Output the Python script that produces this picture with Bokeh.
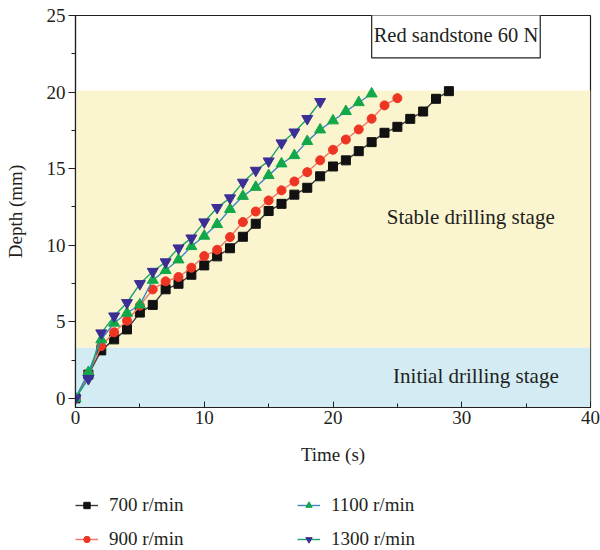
from bokeh.plotting import figure
from bokeh.layouts import column
from bokeh.models import BoxAnnotation, Label, Legend, LegendItem, Range1d, FixedTicker
from bokeh.embed import file_html
from bokeh.resources import INLINE

# ---- data ----
time_700 = list(range(0, 30))
depth_700 = [0, 1.55, 3.13, 3.85, 4.5, 5.6, 6.1, 7.12, 7.48, 8.07, 8.68, 9.27, 9.8, 10.55,
             11.4, 12.23, 12.7, 13.3, 13.75, 14.5, 15.14, 15.54, 16.14, 16.73, 17.34,
             17.73, 18.25, 18.73, 19.56, 20.06]
time_900 = list(range(0, 26))
depth_900 = [0, 1.6, 3.41, 4.31, 5.07, 6.05, 7.11, 7.64, 7.92, 8.53, 9.29, 9.7, 10.53,
             11.51, 12.2, 12.92, 13.58, 14.16, 14.77, 15.54, 16.23, 16.9, 17.56, 18.26,
             19.13, 19.6]
time_1100 = list(range(0, 24))
depth_1100 = [0, 1.7, 3.83, 4.92, 5.57, 6.11, 7.72, 8.36, 9.05, 9.92, 10.6, 11.36, 12.35,
              13.2, 13.79, 14.56, 15.32, 15.86, 16.78, 17.54, 18.13, 18.74, 19.32, 19.89]
time_1300 = list(range(0, 20))
depth_1300 = [0, 1.28, 4.26, 5.37, 6.24, 7.48, 8.28, 8.9, 9.81, 10.46, 11.51, 12.45, 13.08,
              14.1, 14.88, 15.49, 16.67, 17.38, 18.26, 19.37]

series_labels = ["700 r/min", "900 r/min", "1100 r/min", "1300 r/min"]
stage_bounds = [3.3, 20.1]
x_ticks = [0, 10, 20, 30, 40]
y_ticks = [0, 5, 10, 15, 20, 25]

FONT = "Liberation Serif"
TXT = "#231f20"

p = figure(width=600, height=468, output_backend="svg", toolbar_location=None,
           x_range=Range1d(0, 40), y_range=Range1d(-0.6, 25),
           min_border_left=75, min_border_right=10, min_border_top=15, min_border_bottom=61)
p.xgrid.visible = False
p.ygrid.visible = False
p.outline_line_color = "#231f20"
p.outline_line_width = 1.2
p.background_fill_color = "white"

p.add_layout(BoxAnnotation(bottom=stage_bounds[0], top=stage_bounds[1], fill_color="#faf4cf",
                           fill_alpha=1, line_alpha=0, level="underlay"))
p.add_layout(BoxAnnotation(top=stage_bounds[0], fill_color="#d3ecf4",
                           fill_alpha=1, line_alpha=0, level="underlay"))

# axes
p.xaxis.ticker = FixedTicker(ticks=x_ticks, minor_ticks=[5, 15, 25, 35])
p.yaxis.ticker = FixedTicker(ticks=y_ticks, minor_ticks=[2.5, 7.5, 12.5, 17.5, 22.5])
for ax in (p.xaxis[0], p.yaxis[0]):
    ax.axis_line_color = TXT
    ax.axis_line_width = 1.2
    ax.major_tick_line_color = TXT
    ax.minor_tick_line_color = TXT
    ax.major_label_text_font = FONT
    ax.major_label_text_font_size = "19px"
    ax.major_label_text_color = TXT
    ax.axis_label_text_font = FONT
    ax.axis_label_text_font_size = "19px"
    ax.axis_label_text_font_style = "normal"
    ax.axis_label_text_color = TXT
p.xaxis.axis_label = "Time (s)"
p.yaxis.axis_label = "Depth (mm)"
p.xaxis.major_tick_in = 6
p.xaxis.major_tick_out = 0
p.xaxis.minor_tick_in = 4
p.xaxis.minor_tick_out = 0
p.xaxis.major_label_standoff = 3
p.xaxis.axis_label_standoff = 17
p.yaxis.major_tick_in = 0
p.yaxis.major_tick_out = 7
p.yaxis.minor_tick_in = 0
p.yaxis.minor_tick_out = 4
p.yaxis.major_label_standoff = 3
p.yaxis.axis_label_standoff = 18

# series
specs = [
    (time_700, depth_700, "#3a3a3a", "#111111", "square", 9),
    (time_900, depth_900, "#f0766a", "#ee3524", "circle", 9),
    (time_1100, depth_1100, "#3d86c6", "#12a84a", "triangle", 11),
    (time_1300, depth_1300, "#1aa36a", "#3b2f95", "inverted_triangle", 11),
]

# legend strip (separate figure below the plot; its own ranges keep its copies off-view)
lf = figure(width=600, height=82, output_backend="svg", toolbar_location=None,
            x_axis_type=None, y_axis_type=None, min_border=0,
            x_range=Range1d(-1000, -999), y_range=Range1d(-1000, -999))
lf.xgrid.visible = False
lf.ygrid.visible = False
lf.outline_line_color = None

items = []
for (t, d, lc, mc, mk, sz), lab in zip(specs, series_labels):
    p.line(t, d, line_color=lc, line_width=1.4)
    p.scatter(t, d, marker=mk, size=sz, fill_color=mc, line_color=mc)
    lr = lf.line(t, d, line_color=lc, line_width=1.4)
    sr = lf.scatter(t, d, marker=mk, size=sz, fill_color=mc, line_color=mc)
    items.append(LegendItem(label=lab, renderers=[lr, sr]))

legend = Legend(items=items, ncols=2, location=(0, 0), orientation="vertical",
                label_text_font=FONT, label_text_font_size="19px", label_text_color=TXT,
                glyph_width=23, glyph_height=16, label_standoff=11, spacing=12,
                label_width=176, padding=0, margin=0, border_line_alpha=0,
                background_fill_alpha=0)
lf.add_layout(legend)

# annotations
p.add_layout(Label(x=29.55, y=23.73, text="Red sandstone 60 N",
                   text_font=FONT, text_font_size="20.5px", text_color=TXT,
                   text_align="center", text_baseline="middle",
                   border_line_color=TXT, border_line_width=1.2,
                   background_fill_color="white", padding=(2, 12)))
p.add_layout(Label(x=30.7, y=11.87, text="Stable drilling stage", text_font=FONT,
                   text_font_size="21px", text_color=TXT, text_align="center",
                   text_baseline="middle"))
p.add_layout(Label(x=31.1, y=1.43, text="Initial drilling stage", text_font=FONT,
                   text_font_size="21px", text_color=TXT, text_align="center",
                   text_baseline="middle"))

layout = column(p, lf, spacing=0)
open("out.html", "w").write(file_html(layout, INLINE))
